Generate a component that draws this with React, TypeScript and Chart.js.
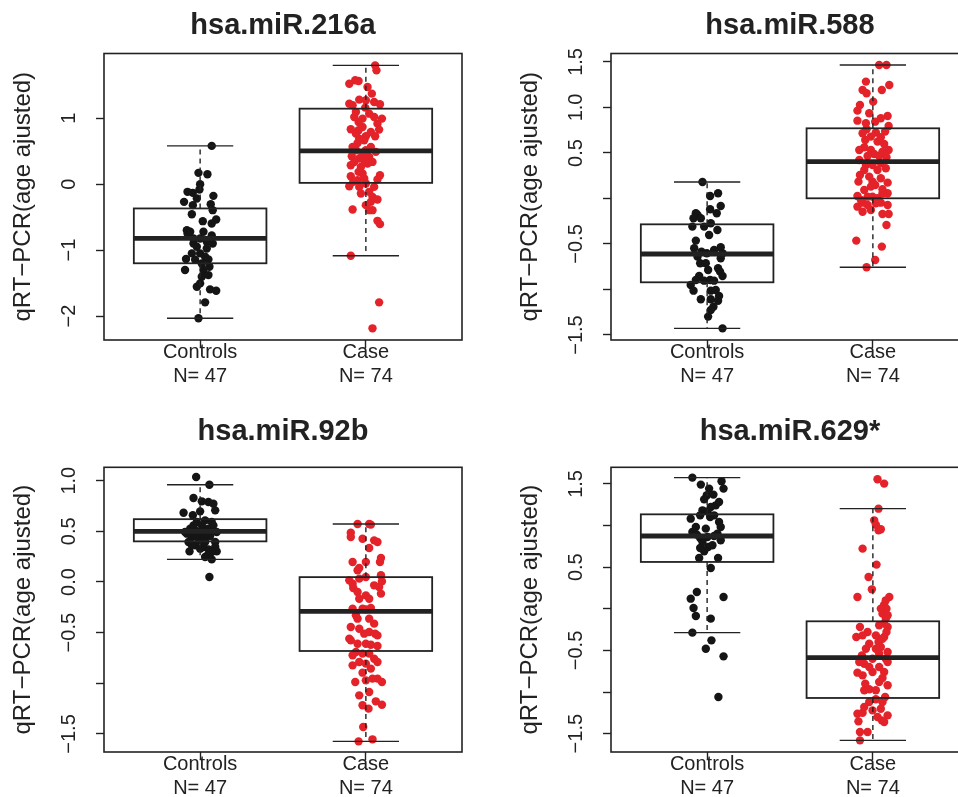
import React, { useEffect, useRef } from 'react';
import { Chart, registerables } from 'chart.js';
Chart.register(...registerables);

const FONT = '"Liberation Sans", Arial, Helvetica, sans-serif';
const INK = '#222222';
const RED = '#e4222a';
const BLACK = '#151515';

const groups = ['Controls', 'Case'];
const groupCounts = ['N= 47', 'N= 74'];
const yLabel = 'qRT\u2212PCR(age ajusted)';
const titles = ['hsa.miR.216a', 'hsa.miR.588', 'hsa.miR.92b', 'hsa.miR.629*'];

// ---------- Panel 1: hsa.miR.216a ----------
const p1Range = [-2.364, 1.983];
const p1Ticks = [-2, -1, 0, 1];
const p1TickLabels = ['\u22122', '\u22121', '0', '1'];
// [lower whisker, Q1, median, Q3, upper whisker]
const p1Stats = [
  [-2.035, -1.2, -0.823, -0.368, 0.581],
  [-1.086, 0.02, 0.505, 1.146, 1.803],
];
const p1CtrlY = [0.581, 0.172, 0.152, 0, -0.081, -0.116, -0.131, -0.217, -0.177, -0.268, -0.318, -0.303, -0.394, -0.455, -0.535, -0.561, -0.596, -0.697, -0.747, -0.722, -0.778, -0.823, -0.823, -0.874, -0.899, -0.899, -1.05, -1.136, -1.05, -1.101, -1.141, -1.303, -1.303, -1.253, -1.404, -1.379, -1.505, -1.556, -1.596, -1.616, -1.793, -2.035, -1.146, -1.202, -0.949, -0.975, -0.722];
const p1CtrlJ = [0.07, -0.01, 0.044, 0, -0.004, -0.076, -0.044, -0.02, 0.08, -0.097, -0.044, 0.064, 0.076, -0.05, 0.097, 0.016, 0.07, -0.08, -0.076, 0.02, 0.07, -0.04, 0, 0.04, -0.04, 0.076, -0.05, -0.085, 0, 0.03, 0.05, -0.091, 0.02, 0.056, 0.01, 0.05, 0, -0.02, 0.06, 0.097, 0.03, -0.01, -0.03, 0.01, -0.02, 0.04, -0.06];
const p1CaseY = [1.803, 1.727, 1.525, 1.576, 1.566, 1.475, 1.374, 1.273, 1.222, 1.197, 1.283, 1.247, 1.212, 1.162, 0.995, 0.919, 0.995, 0.944, 0.828, 0.833, 0.818, 0.727, 0.692, 0.626, 0.727, 0.666, 0.515, 0.454, 0.424, 0.389, 0.414, 0.288, 0.262, 0.313, 0.187, 0.121, 0.161, 0.136, 0.07, -0.031, -0.041, 0.01, -0.116, -0.192, -0.268, -0.233, -0.384, -0.318, -0.394, -0.394, -0.556, -0.606, -1.086, -1.793, -2.187, 1.096, 1.07, 1.02, 1.02, 0.868, 0.793, 0.767, 0.565, 0.565, 0.49, 0.515, 0.363, 0.338, 0.338, 0.06, 0.086, -0.041, -0.142, 0.035];
const p1CaseJ = [0.056, 0.064, -0.1, -0.064, -0.044, 0.01, 0.036, 0, -0.1, -0.08, -0.04, 0.05, 0.085, -0.004, 0.097, 0.07, -0.02, -0.044, 0.08, -0.091, -0.044, 0, -0.04, -0.05, 0.056, -0.01, 0, -0.02, -0.085, -0.04, 0.02, -0.091, -0.03, 0.01, -0.044, -0.091, -0.02, 0.085, 0.07, -0.1, -0.04, 0, 0.02, 0.04, 0.03, 0.07, -0.08, 0, 0.02, 0.04, 0.07, 0.085, -0.091, 0.08, 0.04, -0.06, 0.02, 0.05, -0.07, -0.02, 0.03, -0.06, -0.08, 0.03, 0.06, -0.06, -0.01, 0.04, -0.07, -0.05, -0.01, 0.05, -0.03, -0.076];

// ---------- Panel 2: hsa.miR.588 ----------
const p2Range = [-1.555, 1.593];
const p2Ticks = [-1.5, -1, -0.5, 0, 0.5, 1, 1.5];
const p2TickLabels = ['\u22121.5', '', '\u22120.5', '', '0.5', '1.0', '1.5'];
const p2Stats = [
  [-1.427, -0.921, -0.61, -0.284, 0.181],
  [-0.756, 0.002, 0.405, 0.771, 1.467],
];
const p2CtrlY = [0.181, 0.028, 0.057, -0.119, -0.082, -0.163, -0.163, -0.181, -0.218, -0.218, -0.309, -0.273, -0.346, -0.401, -0.463, -0.547, -0.584, -0.602, -0.536, -0.602, -0.657, -0.712, -0.786, -0.767, -0.804, -0.852, -0.903, -0.895, -0.903, -0.852, -0.95, -1.013, -1.013, -1.071, -1.108, -1.108, -1.123, -1.189, -1.225, -1.298, -1.427, -0.309, -0.566, -0.639, -0.712, -1.005, -0.895];
const p2CtrlJ = [-0.028, 0.018, 0.066, 0.018, 0.082, 0.058, -0.068, -0.058, -0.082, -0.038, -0.089, 0.022, 0.062, 0.012, -0.068, -0.078, -0.034, -0.002, 0.082, 0.093, 0.082, -0.042, 0.006, 0.066, 0.078, -0.048, -0.018, 0.018, 0.042, 0.093, -0.099, -0.082, 0.022, 0.072, -0.038, 0.022, 0.066, 0.038, 0.022, 0.006, 0.093, -0.018, 0.042, -0.058, -0.008, 0.052, -0.068];
const p2CaseY = [1.467, 1.467, 1.284, 1.247, 1.192, 1.192, 1.156, 1.064, 1.028, 0.965, 0.907, 0.855, 0.826, 0.844, 0.797, 0.76, 0.735, 0.724, 0.672, 0.643, 0.599, 0.562, 0.533, 0.533, 0.489, 0.467, 0.467, 0.453, 0.423, 0.368, 0.387, 0.332, 0.258, 0.185, 0.185, 0.174, 0.148, 0.101, 0.13, 0.028, 0.02, 0.02, 0.002, -0.046, -0.046, -0.071, -0.09, -0.145, -0.126, -0.17, -0.17, -0.291, -0.463, -0.529, -0.676, -0.756, 0.936, 0.881, 0.716, 0.68, 0.625, 0.533, 0.515, 0.368, 0.313, 0.313, 0.24, 0.222, 0.094, 0.057, -0.053, -0.071, 0.057, -0.016];
const p2CaseJ = [0.038, 0.082, -0.042, 0.099, 0.054, -0.062, -0.038, 0.002, -0.078, -0.093, 0.089, -0.093, -0.042, 0.014, 0.095, -0.038, 0.074, 0.018, 0.048, -0.046, 0.068, -0.052, -0.012, 0.095, 0.008, 0.038, -0.032, 0.082, -0.082, -0.002, 0.048, 0.078, -0.078, -0.087, -0.002, 0.089, 0.014, 0.058, -0.012, -0.093, -0.032, -0.002, 0.028, -0.062, 0.048, 0.089, -0.093, -0.062, -0.012, 0.058, 0.095, 0.082, -0.1, 0.054, 0.014, -0.038, -0.022, 0.048, -0.062, -0.012, 0.028, -0.082, 0.058, -0.042, 0.028, -0.052, -0.022, 0.048, -0.052, 0.089, 0.018, -0.032, 0.058, -0.072];

// ---------- Panel 3: hsa.miR.92b ----------
const p3Range = [-1.678, 1.132];
const p3Ticks = [-1.5, -1, -0.5, 0, 0.5, 1];
const p3TickLabels = ['\u22121.5', '', '\u22120.5', '0.0', '0.5', '1.0'];
const p3Stats = [
  [0.223, 0.401, 0.5, 0.62, 0.96],
  [-1.573, -0.681, -0.29, 0.048, 0.572],
];
const p3CtrlY = [1.036, 0.96, 0.829, 0.796, 0.789, 0.773, 0.707, 0.684, 0.658, 0.697, 0.608, 0.592, 0.559, 0.526, 0.51, 0.477, 0.493, 0.51, 0.526, 0.493, 0.444, 0.444, 0.454, 0.395, 0.395, 0.411, 0.302, 0.345, 0.322, 0.345, 0.302, 0.246, 0.223, 0.256, 0.049, 0.592, 0.559, 0.559, 0.477, 0.444, 0.493, 0.493, 0.395, 0.362, 0.329, 0.296, 0.362];
const p3CtrlJ = [-0.024, 0.056, -0.04, 0.01, 0.05, 0.08, 0.091, -0.1, -0.044, 0, 0.03, 0.07, 0.08, -0.06, -0.03, -0.08, -0.01, 0.02, 0.05, 0.1, -0.05, 0.02, 0.06, 0.091, -0.07, 0, -0.064, 0.02, 0.05, 0.091, 0.1, 0.03, 0.07, 0.04, 0.056, -0.02, -0.04, 0.01, 0.04, -0.02, -0.091, 0.07, 0.03, -0.03, 0, 0.07, -0.05];
const p3CaseY = [0.572, 0.566, 0.572, 0.487, 0.444, 0.427, 0.411, 0.395, 0.335, 0.237, 0.197, 0.197, 0.138, 0.115, 0.197, 0.016, -0.017, 0.066, 0.006, -0.05, -0.115, -0.059, -0.099, -0.165, -0.132, -0.165, 0.049, -0.263, -0.329, -0.27, -0.257, -0.411, -0.444, -0.559, -0.51, -0.494, -0.51, -0.609, -0.619, -0.632, -0.576, -0.691, -0.724, -0.707, -0.757, -0.806, -0.823, -0.855, -0.895, -0.987, -0.971, -0.954, -0.987, -0.954, -1.217, -1.178, -1.211, -1.25, -1.431, -1.573, -1.553, 0.033, -0.033, -0.263, -0.362, -0.362, -0.461, -0.527, -0.609, -0.707, -0.79, -0.79, -1.086, -1.119];
const p3CaseJ = [-0.05, 0.03, 0.02, -0.091, -0.091, -0.02, 0.05, 0.07, 0.02, 0.091, -0.08, 0.085, -0.04, -0.05, 0, -0.1, -0.08, 0.091, 0.097, 0.08, 0.091, -0.076, -0.05, -0.04, 0, 0.02, 0, -0.08, -0.06, 0, 0.03, 0.05, -0.091, -0.1, -0.01, 0.02, 0.056, 0, 0.03, 0.07, -0.091, -0.06, -0.08, -0.02, 0.05, 0, -0.08, 0.03, -0.02, -0.064, 0, 0.07, 0.097, 0.04, -0.02, 0.06, 0.097, 0.016, -0.016, -0.044, 0.04, -0.04, 0.05, -0.02, -0.05, 0.02, -0.04, 0.07, -0.05, 0.02, -0.04, 0.07, 0.02, -0.04];

// ---------- Panel 4: hsa.miR.629* ----------
const p4Range = [-1.72, 1.7];
const p4Ticks = [-1.5, -1, -0.5, 0, 0.5, 1, 1.5];
const p4TickLabels = ['\u22121.5', '', '\u22120.5', '', '0.5', '', '1.5'];
const p4Stats = [
  [-0.286, 0.563, 0.875, 1.135, 1.576],
  [-1.58, -1.071, -0.587, -0.15, 1.203],
];
const p4CtrlY = [1.576, 1.532, 1.444, 1.492, 1.444, 1.364, 1.372, 1.315, 1.243, 1.223, 1.183, 1.171, 1.083, 1.123, 1.103, 1.043, 0.983, 0.963, 0.923, 0.891, 0.851, 0.903, 0.823, 0.863, 0.875, 0.731, 0.743, 0.691, 0.611, 0.611, 0.49, 0.202, 0.122, 0.142, 0.01, -0.086, -0.118, -0.286, -0.379, -0.479, -0.571, -1.059, 0.983, 1.123, 0.803, 0.763, 1.283];
const p4CtrlJ = [-0.089, 0.087, 0.099, -0.038, 0.012, -0.002, 0.038, -0.018, 0.052, 0.022, -0.028, 0.002, -0.099, -0.042, 0.018, 0.072, 0.082, -0.008, -0.089, -0.062, -0.042, 0.062, 0.082, 0.002, 0.042, -0.042, 0.006, -0.018, -0.048, 0.066, 0.022, -0.062, -0.099, 0.099, -0.082, -0.068, 0.022, -0.089, 0.026, -0.008, 0.099, 0.068, -0.068, 0.042, -0.028, 0.032, 0.072];
const p4CaseY = [1.556, 1.504, 1.203, 1.063, 1.011, 0.955, 0.943, 0.723, 0.531, 0.382, 0.234, 0.142, 0.142, 0.05, 0.002, -0.058, -0.118, -0.178, -0.218, -0.218, -0.278, -0.339, -0.419, -0.399, -0.339, -0.278, -0.459, -0.559, -0.599, -0.539, -0.599, -0.639, -0.659, -0.767, -0.759, -0.759, -0.831, -0.899, -0.979, -0.967, -0.979, -1.059, -1.087, -1.26, -1.248, -1.22, -1.3, -1.34, -1.28, -1.36, -1.352, -1.48, -1.48, -1.58, 0.102, 0.002, -0.078, -0.198, -0.319, -0.319, -0.359, -0.479, -0.479, -0.519, -0.639, -0.699, -0.699, -0.799, -0.879, -0.919, -1.119, -1.119, -1.18, -1.2];
const p4CaseJ = [0.028, 0.068, 0.034, 0.008, 0.018, 0.048, 0.034, -0.062, 0.022, -0.026, -0.006, -0.093, 0.099, 0.068, 0.082, 0.058, 0.078, 0.068, 0.089, -0.078, -0.032, -0.1, -0.022, 0.034, 0.068, 0.082, 0.048, -0.066, -0.002, 0.038, 0.078, 0.089, -0.052, -0.093, -0.002, 0.068, 0.058, -0.046, -0.052, -0.022, 0.018, 0.074, 0.018, -0.093, -0.062, -0.002, 0.028, 0.054, 0.089, 0.068, -0.087, -0.032, -0.078, -0.078, 0.078, 0.048, 0.089, 0.038, -0.062, 0.018, 0.058, -0.042, 0.018, 0.089, -0.082, -0.022, 0.038, -0.062, 0.038, 0.089, -0.022, 0.058, -0.052, 0.048];

type PanelProps = {
  title: string;
  range: number[];
  ticks: number[];
  tickLabels: string[];
  stats: number[][];
  ctrlY: number[];
  ctrlJ: number[];
  caseY: number[];
  caseJ: number[];
  left: number;
  top: number;
  width: number;
  height: number;
  axisWidth: number;
  padRight: number;
  xAxisHeight: number;
  titlePadTop: number;
  titlePadBottom: number;
  yTitlePad: number;
};

function Panel(p: PanelProps) {
  const ref = useRef<HTMLCanvasElement>(null);
  useEffect(() => {
    const canvas = ref.current;
    if (!canvas) return;
    const pts = (ys: number[], js: number[], g: number) => ys.map((y, i) => ({ x: g + js[i], y }));

    const boxPlugin = {
      id: 'rboxes',
      afterDatasetsDraw(chart: any) {
        const { ctx, chartArea } = chart;
        const xs = chart.scales.x;
        const ys = chart.scales.y;
        const Y = (v: number) => ys.getPixelForValue(v);
        const X = (v: number) => xs.getPixelForValue(v);
        const seg = (x1: number, y1: number, x2: number, y2: number) => {
          ctx.beginPath();
          ctx.moveTo(x1, y1);
          ctx.lineTo(x2, y2);
          ctx.stroke();
        };
        ctx.save();
        ctx.strokeStyle = INK;
        ctx.lineCap = 'butt';
        p.stats.forEach((s, gi) => {
          const g = gi + 1;
          const [lo, q1, med, q3, hi] = s;
          const xc = X(g);
          const xl = X(g - 0.4);
          const xr = X(g + 0.4);
          const cl = X(g - 0.2);
          const cr = X(g + 0.2);
          ctx.lineWidth = 1.4;
          ctx.setLineDash([5, 4]);
          seg(xc, Y(q3), xc, Y(hi));
          seg(xc, Y(q1), xc, Y(lo));
          ctx.setLineDash([]);
          seg(cl, Y(hi), cr, Y(hi));
          seg(cl, Y(lo), cr, Y(lo));
          ctx.lineWidth = 1.8;
          ctx.strokeRect(xl, Y(q3), xr - xl, Y(q1) - Y(q3));
          ctx.lineWidth = 4.8;
          seg(xl, Y(med), xr, Y(med));
        });
        ctx.lineWidth = 1.6;
        ctx.strokeRect(chartArea.left, chartArea.top, chartArea.right - chartArea.left, chartArea.bottom - chartArea.top);
        ctx.fillStyle = INK;
        ctx.font = `20px ${FONT}`;
        ctx.textAlign = 'center';
        ctx.textBaseline = 'middle';
        p.ticks.forEach((v, i) => {
          const lab = p.tickLabels[i];
          if (!lab) return;
          ctx.save();
          ctx.translate(chartArea.left - 34.5, Y(v));
          ctx.rotate(-Math.PI / 2);
          ctx.fillText(lab, 0, 0);
          ctx.restore();
        });
        ctx.restore();
      },
    };

    const gridOpts = {
      display: true,
      drawOnChartArea: false,
      drawTicks: true,
      tickLength: 8,
      tickWidth: 1.4,
      tickColor: INK,
    };

    const chart = new Chart(canvas, {
      type: 'scatter',
      data: {
        datasets: [
          {
            data: pts(p.ctrlY, p.ctrlJ, 1),
            backgroundColor: BLACK,
            borderWidth: 0,
            pointRadius: 4.2,
            pointHoverRadius: 4.2,
          },
          {
            data: pts(p.caseY, p.caseJ, 2),
            backgroundColor: RED,
            borderWidth: 0,
            pointRadius: 4.2,
            pointHoverRadius: 4.2,
          },
        ],
      },
      options: {
        responsive: false,
        animation: false,
        events: [],
        layout: { padding: { left: 0, right: p.padRight, top: 0, bottom: 0 } },
        plugins: {
          legend: { display: false },
          tooltip: { enabled: false },
          title: {
            display: true,
            text: p.title,
            fullSize: false,
            color: INK,
            font: { family: FONT, size: 29, weight: 'bold', lineHeight: 1.2 },
            padding: { top: p.titlePadTop, bottom: p.titlePadBottom },
          },
        },
        scales: {
          x: {
            type: 'linear',
            position: 'bottom',
            min: 0.42,
            max: 2.58,
            afterBuildTicks: (s: any) => {
              s.ticks = [1, 2].map((v) => ({ value: v }));
            },
            afterFit: (s: any) => {
              s.height = p.xAxisHeight;
            },
            grid: gridOpts,
            border: { display: false },
            ticks: {
              autoSkip: false,
              maxRotation: 0,
              minRotation: 0,
              padding: -8,
              color: INK,
              font: { family: FONT, size: 20, lineHeight: 1.2 },
              callback: (v: any) => {
                const i = Math.round(Number(v)) - 1;
                return [groups[i], groupCounts[i]];
              },
            },
          },
          y: {
            type: 'linear',
            min: p.range[0],
            max: p.range[1],
            afterBuildTicks: (s: any) => {
              s.ticks = p.ticks.map((v) => ({ value: v }));
            },
            afterFit: (s: any) => {
              s.width = p.axisWidth;
            },
            grid: gridOpts,
            border: { display: false },
            ticks: { display: false },
            title: {
              display: true,
              text: yLabel,
              color: INK,
              font: { family: FONT, size: 24, lineHeight: 1.2 },
              padding: { top: p.yTitlePad, bottom: 0 },
            },
          },
        },
      },
      plugins: [boxPlugin],
    } as any);
    return () => chart.destroy();
  }, []);

  return (
    <canvas
      ref={ref}
      width={p.width}
      height={p.height}
      style={{ position: 'absolute', left: p.left, top: p.top, width: p.width, height: p.height, display: 'block' }}
    />
  );
}

export default function App() {
  const topRow = { top: 0, height: 398, xAxisHeight: 58, titlePadTop: 8.6, titlePadBottom: 10.1 };
  const botRow = { top: 398, height: 399, xAxisHeight: 45, titlePadTop: 16.9, titlePadBottom: 17.6 };
  const leftCol = { left: 0, width: 479, axisWidth: 104, padRight: 17, yTitlePad: 9 };
  const rightCol = { left: 479, width: 510, axisWidth: 132, padRight: 20, yTitlePad: 37 };
  return (
    <div
      style={{
        position: 'fixed',
        left: 0,
        top: 0,
        width: 958,
        height: 797,
        overflow: 'hidden',
        background: '#ffffff',
      }}
    >
      <Panel
        title={titles[0]}
        range={p1Range}
        ticks={p1Ticks}
        tickLabels={p1TickLabels}
        stats={p1Stats}
        ctrlY={p1CtrlY}
        ctrlJ={p1CtrlJ}
        caseY={p1CaseY}
        caseJ={p1CaseJ}
        {...topRow}
        {...leftCol}
      />
      <Panel
        title={titles[1]}
        range={p2Range}
        ticks={p2Ticks}
        tickLabels={p2TickLabels}
        stats={p2Stats}
        ctrlY={p2CtrlY}
        ctrlJ={p2CtrlJ}
        caseY={p2CaseY}
        caseJ={p2CaseJ}
        {...topRow}
        {...rightCol}
      />
      <Panel
        title={titles[2]}
        range={p3Range}
        ticks={p3Ticks}
        tickLabels={p3TickLabels}
        stats={p3Stats}
        ctrlY={p3CtrlY}
        ctrlJ={p3CtrlJ}
        caseY={p3CaseY}
        caseJ={p3CaseJ}
        {...botRow}
        {...leftCol}
      />
      <Panel
        title={titles[3]}
        range={p4Range}
        ticks={p4Ticks}
        tickLabels={p4TickLabels}
        stats={p4Stats}
        ctrlY={p4CtrlY}
        ctrlJ={p4CtrlJ}
        caseY={p4CaseY}
        caseJ={p4CaseJ}
        {...botRow}
        {...rightCol}
      />
    </div>
  );
}
